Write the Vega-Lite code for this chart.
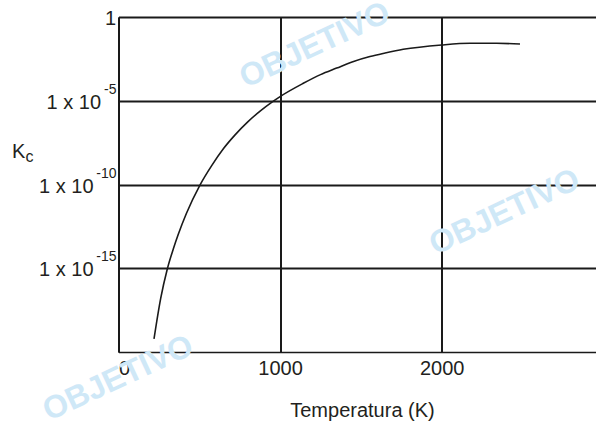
{
  "$schema": "https://vega.github.io/schema/vega-lite/v6.json",
  "width": 478,
  "height": 335,
  "autosize": {"type": "none"},
  "padding": {"left": 118.5, "top": 17, "right": 0, "bottom": 69},
  "background": "white",
  "config": {"view": {"stroke": null}, "font": "Liberation Sans"},
  "datasets": {
    "curve": [
      {"T": 219.7, "K": 6.0e-20},
      {"T": 261.1, "K": 1.58e-17},
      {"T": 302, "K": 9.1e-16},
      {"T": 340, "K": 1.51e-14},
      {"T": 370, "K": 1.07e-13},
      {"T": 420, "K": 1.86e-12},
      {"T": 504, "K": 9.3e-11},
      {"T": 576.7, "K": 1.35e-9},
      {"T": 650, "K": 1.41e-8},
      {"T": 720, "K": 8.9e-8},
      {"T": 800, "K": 5.5e-7},
      {"T": 880, "K": 2.57e-6},
      {"T": 954, "K": 8.9e-6},
      {"T": 1000, "K": 1.78e-5},
      {"T": 1143.6, "K": 1.10e-4},
      {"T": 1250, "K": 3.63e-4},
      {"T": 1350, "K": 8.9e-4},
      {"T": 1450, "K": 2.14e-3},
      {"T": 1556, "K": 4.37e-3},
      {"T": 1650, "K": 7.08e-3},
      {"T": 1762, "K": 0.01175},
      {"T": 2000, "K": 0.0214},
      {"T": 2175, "K": 0.0269},
      {"T": 2340, "K": 0.0269},
      {"T": 2484.5, "K": 0.0245}
    ],
    "ylabels": [
      {"K": 1, "base": "1", "exp": ""},
      {"K": 1e-5, "base": "1 x 10", "exp": "-5"},
      {"K": 1e-10, "base": "1 x 10", "exp": "-10"},
      {"K": 1e-15, "base": "1 x 10", "exp": "-15"}
    ],
    "marks": [
      {"T": -3, "K": 2.8e-22, "label": "OBJETIVO"},
      {"T": 1215, "K": 0.0214, "label": "OBJETIVO"},
      {"T": 2389, "K": 2.3e-12, "label": "OBJETIVO"}
    ],
    "sub": [{"label": "c"}]
  },
  "layer": [
    {
      "data": {"name": "marks"},
      "mark": {"type": "text", "font": "Liberation Sans", "fontWeight": "bold", "fontSize": 32, "angle": -25, "align": "center", "baseline": "middle", "color": "#cfe8f7"},
      "encoding": {
        "x": {"field": "T", "type": "quantitative"},
        "y": {"field": "K", "type": "quantitative"},
        "text": {"field": "label"}
      }
    },
    {
      "data": {"name": "curve"},
      "mark": {"type": "line", "color": "#1a1a1a", "strokeWidth": 1.6, "interpolate": "monotone"},
      "encoding": {
        "x": {
          "field": "T",
          "type": "quantitative",
          "scale": {"domain": [0, 2958], "nice": false, "zero": false},
          "axis": {
            "values": [0, 1000, 2000],
            "format": "d",
            "grid": true,
            "gridColor": "#1a1a1a",
            "gridWidth": 2,
            "gridOpacity": 1,
            "ticks": false,
            "tickSize": 0,
            "domainColor": "#1a1a1a",
            "domainWidth": 1.6,
            "labelFont": "Liberation Sans",
            "labelFontSize": 20,
            "labelColor": "#231f20",
            "labelPadding": 22,
            "labelBaseline": "alphabetic",
            "labelFlush": false,
            "labelAlign": {"condition": {"test": "datum.value === 0", "value": "left"}, "value": "center"},
            "title": "Temperatura (K)",
            "titleFont": "Liberation Sans",
            "titleFontSize": 20,
            "titleFontWeight": "normal",
            "titleColor": "#231f20",
            "titleX": 243.5,
            "titleY": 64,
            "titleAlign": "center",
            "titleBaseline": "alphabetic"
          }
        },
        "y": {
          "field": "K",
          "type": "quantitative",
          "scale": {"type": "log", "domain": [1e-20, 1], "nice": false},
          "axis": {
            "values": [1, 1e-5, 1e-10, 1e-15],
            "grid": true,
            "gridColor": "#1a1a1a",
            "gridWidth": 2,
            "gridOpacity": 1,
            "labels": false,
            "ticks": false,
            "tickSize": 0,
            "domainColor": "#1a1a1a",
            "domainWidth": 1.6,
            "title": "K",
            "titleFont": "Liberation Sans",
            "titleFontSize": 20,
            "titleFontWeight": "normal",
            "titleColor": "#231f20",
            "titleAngle": 0,
            "titleAlign": "left",
            "titleBaseline": "alphabetic",
            "titleX": -107,
            "titleY": 140
          }
        }
      }
    },
    {
      "data": {"name": "ylabels"},
      "transform": [{"filter": "datum.exp === ''"}],
      "mark": {"type": "text", "align": "right", "baseline": "alphabetic", "dx": -2.5, "dy": 8, "fontSize": 20, "font": "Liberation Sans", "color": "#231f20"},
      "encoding": {
        "x": {"datum": 0, "type": "quantitative"},
        "y": {"field": "K", "type": "quantitative"},
        "text": {"field": "base"}
      }
    },
    {
      "data": {"name": "ylabels"},
      "transform": [{"filter": "datum.exp === '-5'"}],
      "mark": {"type": "text", "align": "right", "baseline": "alphabetic", "dx": -17.5, "dy": 8, "fontSize": 20, "font": "Liberation Sans", "color": "#231f20"},
      "encoding": {
        "x": {"datum": 0, "type": "quantitative"},
        "y": {"field": "K", "type": "quantitative"},
        "text": {"field": "base"}
      }
    },
    {
      "data": {"name": "ylabels"},
      "transform": [{"filter": "datum.exp === '-10' || datum.exp === '-15'"}],
      "mark": {"type": "text", "align": "right", "baseline": "alphabetic", "dx": -25, "dy": 8, "fontSize": 20, "font": "Liberation Sans", "color": "#231f20"},
      "encoding": {
        "x": {"datum": 0, "type": "quantitative"},
        "y": {"field": "K", "type": "quantitative"},
        "text": {"field": "base"}
      }
    },
    {
      "data": {"name": "ylabels"},
      "transform": [{"filter": "datum.exp !== ''"}],
      "mark": {"type": "text", "align": "right", "baseline": "alphabetic", "dx": -2, "dy": -7, "fontSize": 14, "font": "Liberation Sans", "color": "#231f20"},
      "encoding": {
        "x": {"datum": 0, "type": "quantitative"},
        "y": {"field": "K", "type": "quantitative"},
        "text": {"field": "exp"}
      }
    },
    {
      "data": {"name": "sub"},
      "mark": {"type": "text", "align": "left", "baseline": "alphabetic", "dx": -93, "fontSize": 16, "font": "Liberation Sans", "color": "#231f20"},
      "encoding": {
        "x": {"datum": 0, "type": "quantitative"},
        "y": {"datum": 2.3e-9, "type": "quantitative"},
        "text": {"field": "label"}
      }
    }
  ]
}
